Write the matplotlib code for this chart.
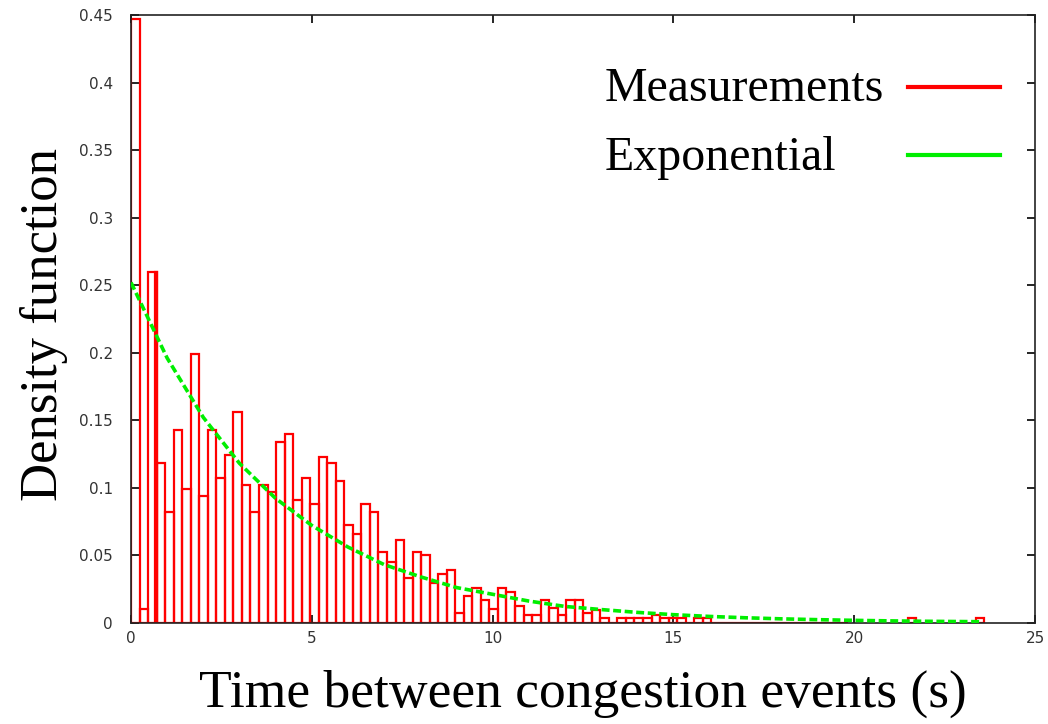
import matplotlib
matplotlib.use("Agg")
import matplotlib.pyplot as plt
from matplotlib.lines import Line2D

# ---- data ----
bin_width = 0.236  # seconds
heights = [
    0.447, 0.010, 0.260, 0.118, 0.082, 0.143, 0.099, 0.199, 0.094, 0.143,
    0.107, 0.124, 0.156, 0.102, 0.082, 0.102, 0.097, 0.134, 0.140, 0.091,
    0.107, 0.088, 0.123, 0.118, 0.105, 0.072, 0.066, 0.088, 0.082, 0.052,
    0.045, 0.061, 0.033, 0.052, 0.050, 0.029, 0.036, 0.039, 0.007, 0.020,
    0.026, 0.017, 0.010, 0.026, 0.023, 0.0125, 0.006, 0.006, 0.017, 0.011,
    0.006, 0.017, 0.017, 0.007, 0.009, 0.0035, 0.0, 0.0035, 0.0035, 0.0035,
    0.0035, 0.006, 0.0035, 0.0035, 0.0035, 0.0, 0.0035, 0.0035, 0.0, 0.0,
    0.0, 0.0, 0.0, 0.0, 0.0, 0.0, 0.0, 0.0, 0.0, 0.0,
    0.0, 0.0, 0.0, 0.0, None, None, None, None, None, None,
    None, 0.0035, None, None, None, None, None, None, None, 0.0035,
]
# narrow extra box next to the third bin
spike_left = 0.67
spike_width = 0.05
spike_height = 0.26

# exponential density curve
exp_x = [0, 1, 2, 3, 4, 5, 6, 7, 8, 9, 10, 11, 12, 13, 14, 15, 16, 17,
         18, 19, 20, 21, 22, 23, 23.5]
exp_y = [0.252, 0.196, 0.152, 0.118, 0.092, 0.072, 0.056, 0.043, 0.034,
         0.026, 0.021, 0.016, 0.012, 0.0097, 0.0076, 0.0059, 0.0046,
         0.0036, 0.0028, 0.0022, 0.0017, 0.0013, 0.0010, 0.0008, 0.0007]

x_ticks = [0, 5, 10, 15, 20, 25]
y_ticks = [0, 0.05, 0.1, 0.15, 0.2, 0.25, 0.3, 0.35, 0.4, 0.45]
y_tick_labels = ["0", "0.05", "0.1", "0.15", "0.2", "0.25", "0.3", "0.35", "0.4", "0.45"]
legend_labels = ["Measurements", "Exponential"]

RED = "#ff0000"
GREEN = "#00ee00"
SERIF = ["Liberation Serif", "DejaVu Serif"]

fig = plt.figure(figsize=(10.48, 7.24), dpi=100)
ax = fig.add_axes([0.125, 0.140, 0.8626, 0.839])

lefts = [i * bin_width for i, h in enumerate(heights) if h is not None]
hs = [h for h in heights if h is not None]
ax.bar(lefts, hs, width=bin_width, align="edge", fill=False,
       edgecolor=RED, linewidth=1.6, zorder=2)
ax.bar([spike_left], [spike_height], width=spike_width, align="edge",
       fill=False, edgecolor=RED, linewidth=1.6, zorder=2)

ax.plot(exp_x, exp_y, color=GREEN, linewidth=2.6, dashes=(2.2, 1.0), zorder=3)

ax.set_xlim(0, 25)
ax.set_ylim(0, 0.45)
ax.set_xticks(x_ticks)
ax.set_yticks(y_ticks)
ax.set_yticklabels(y_tick_labels)
ax.tick_params(direction="in", length=6, width=1.2, top=True, right=True,
               labelsize=11, labelcolor="#333333")
ax.tick_params(axis="y", pad=13)
ax.tick_params(axis="x", pad=6)
for s in ax.spines.values():
    s.set_linewidth(1.2)
    s.set_color("#222222")

ax.set_xlabel("Time between congestion events (s)", fontsize=38.5,
              family=SERIF, labelpad=17)
ax.set_ylabel("Density function", fontsize=38, family=SERIF)
ax.yaxis.set_label_coords(-0.070, 0.49)

# legend: left-aligned texts, line samples to their right
legend_colors = [RED, GREEN]
legend_styles = ["-", "-"]
row_baselines = [0.8584, 0.7449]
row_lines = [0.881, 0.770]
for lab, col, ls, yb, yl in zip(legend_labels, legend_colors, legend_styles,
                                row_baselines, row_lines):
    ax.text(0.5243, yb, lab, transform=ax.transAxes, ha="left",
            va="baseline", fontsize=34.5, family=SERIF, color="black")
    ax.add_line(Line2D([0.8595, 0.9613], [yl, yl], transform=ax.transAxes,
                       color=col, linewidth=3, linestyle=ls, zorder=4))

fig.savefig("out.png", dpi=100)
